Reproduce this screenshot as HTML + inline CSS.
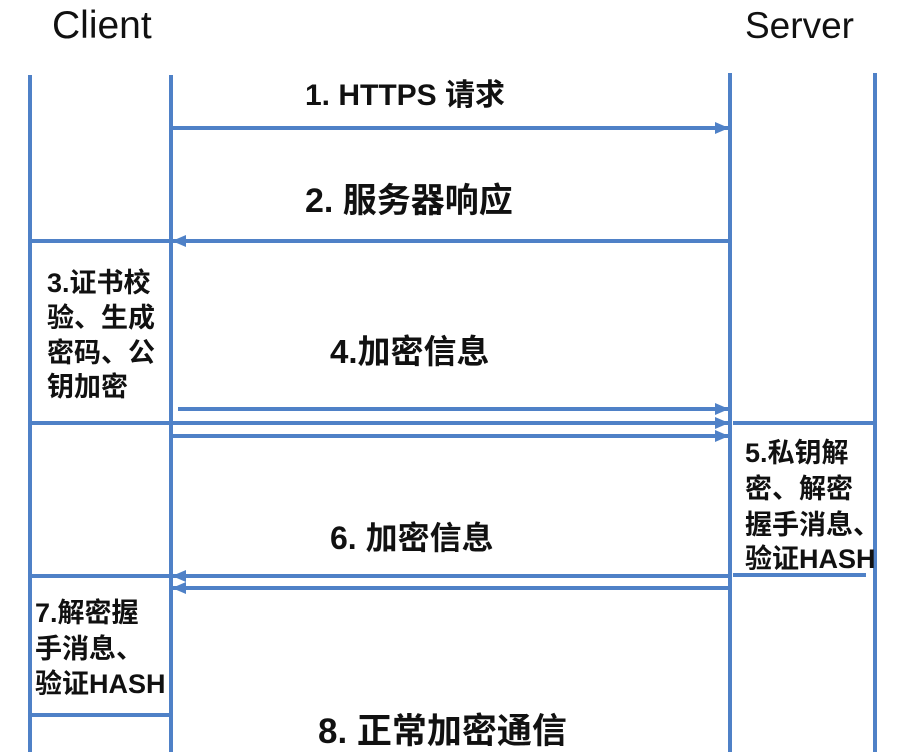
<!DOCTYPE html>
<html><head><meta charset="utf-8"><style>
body{margin:0;background:#fff;}
svg{display:block}
text{font-family:"Liberation Sans","Noto Sans CJK SC",sans-serif;font-weight:bold;fill:#111}
</style></head><body>
<svg width="907" height="752" viewBox="0 0 907 752" xmlns="http://www.w3.org/2000/svg">
<defs>
<marker id="a" markerWidth="14" markerHeight="12" refX="13" refY="6" orient="auto" markerUnits="userSpaceOnUse">
<path d="M0,0 L14,6 L0,12 z" fill="#4f81c7"/></marker>
</defs>
<g stroke="#4f81c7" stroke-width="4" fill="none">
<line x1="30" y1="75" x2="30" y2="752"/>
<line x1="171" y1="75" x2="171" y2="752"/>
<line x1="730" y1="73" x2="730" y2="752"/>
<line x1="875" y1="73" x2="875" y2="752"/>
<line x1="171" y1="128" x2="728" y2="128" marker-end="url(#a)"/>
<line x1="730" y1="241" x2="173" y2="241" marker-end="url(#a)"/>
<line x1="30" y1="241" x2="171" y2="241"/>
<line x1="178" y1="409" x2="728" y2="409" marker-end="url(#a)"/>
<line x1="30" y1="423" x2="728" y2="423" marker-end="url(#a)"/>
<line x1="733" y1="423" x2="875" y2="423"/>
<line x1="171" y1="436" x2="728" y2="436" marker-end="url(#a)"/>
<line x1="30" y1="576" x2="171" y2="576"/>
<line x1="730" y1="576" x2="173" y2="576" marker-end="url(#a)"/>
<line x1="730" y1="588" x2="173" y2="588" marker-end="url(#a)"/>
<line x1="733" y1="575" x2="866" y2="575"/>
<line x1="30" y1="715" x2="171" y2="715"/>
</g>
<text x="52" y="38" font-size="39" style="font-weight:normal">Client</text>
<text x="745" y="38" font-size="37" style="font-weight:normal">Server</text>
<text x="305" y="105" font-size="30">1. HTTPS 请求</text>
<text x="305" y="212" font-size="34">2. 服务器响应</text>
<text x="330" y="363" font-size="33">4.加密信息</text>
<text x="330" y="549" font-size="32">6. 加密信息</text>
<text x="318" y="743" font-size="35">8. 正常加密通信</text>
<g font-size="27">
<text x="47" y="292">3.证书校</text>
<text x="47" y="327">验、生成</text>
<text x="47" y="362">密码、公</text>
<text x="47" y="396">钥加密</text>
<text x="745" y="462">5.私钥解</text>
<text x="745" y="498">密、解密</text>
<text x="745" y="534">握手消息、</text>
<text x="745" y="568">验证HASH</text>
<text x="35" y="622">7.解密握</text>
<text x="35" y="658">手消息、</text>
<text x="35" y="693">验证HASH</text>
</g>
</svg>
</body></html>
